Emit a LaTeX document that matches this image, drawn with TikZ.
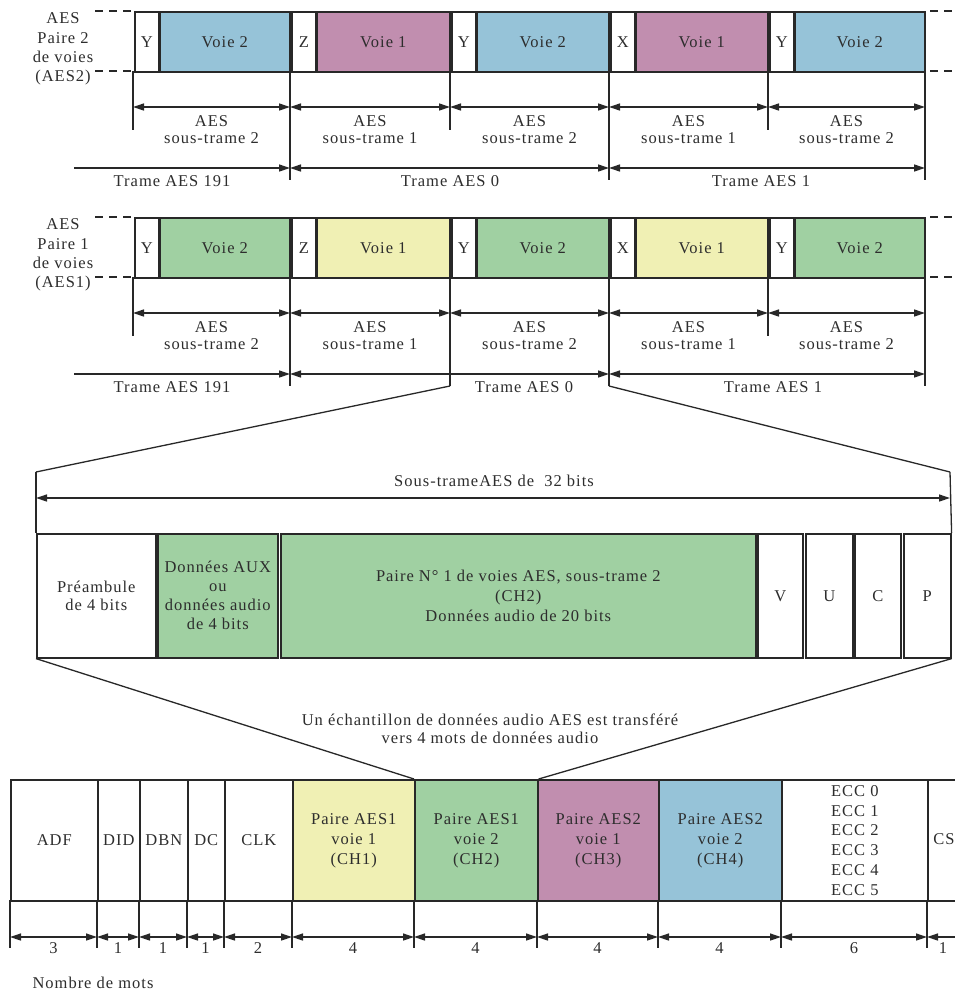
\documentclass[tikz,border=0pt]{standalone}
\usepackage{fontspec}
\setmainfont{Liberation Serif}[LetterSpace=6]
\usetikzlibrary{arrows.meta}
\definecolor{cblue}{RGB}{150,195,216}
\definecolor{cpink}{RGB}{193,142,175}
\definecolor{cgreen}{RGB}{160,208,162}
\definecolor{cyellow}{RGB}{240,240,180}
\definecolor{ink}{RGB}{40,40,40}
\definecolor{txt}{RGB}{45,45,45}
\tikzset{
  tf/.style={font=\fontsize{16.5}{17.5}\selectfont, text=txt},
  cell/.style={draw=ink, line width=1.6pt, inner sep=0pt, anchor=north west, tf, align=center},
  ln/.style={draw=ink, line width=1.3pt},
  dimarr/.style={ln, {Triangle[length=11pt,width=7pt]}-{Triangle[length=11pt,width=7pt]}},
  endarr/.style={ln, -{Triangle[length=11pt,width=7pt]}},
  dsh/.style={draw=ink, line width=1.3pt, dash pattern=on 8pt off 6pt},
  lbl/.style={tf, inner sep=0pt, align=center},
}
\newcommand{\aesrow}[8]{%
\begin{scope}[shift={(0,#1)}]
 \node[lbl, font=\fontsize{16.5}{19.3}\selectfont] (#2lab) at (63,49) {#5};
 \foreach \xa/\xb/\pr/\vo/\col [count=\i] in {133/290/Y/Voie 2/#3, 290/450/Z/Voie 1/#4, 450/609/Y/Voie 2/#3, 609/768/X/Voie 1/#4, 768/925/Y/Voie 2/#3}{
   \pgfmathsetmacro\bw{\xb-\xa-27}
   \node[cell, fill=white, minimum width=24pt, minimum height=60pt] (#2p\i) at (\xa+1,11) {\pr};
   \node[cell, fill=\col, minimum width=\bw pt, minimum height=60pt] (#2d\i) at (\xa+26,11) {\vo};
 }
 \foreach \x/\e [count=\i from 0] in {133/130, 290/180, 450/#6, 609/180, 768/130, 925/180}{
   \coordinate (#2t\i) at (\x,71);
   \coordinate (#2u\i) at (\x,\e);
   \draw[ln] (#2t\i) -- (#2u\i);
   \coordinate (#2s\i) at (\x,107);
 }
 \foreach \i/\j/\k in {0/1/2, 1/2/1, 2/3/2, 3/4/1, 4/5/2}{
   \draw[dimarr] (#2s\i) -- node[midway, lbl, yshift=-22.5pt] (#2st\i) {AES\\sous-trame \k} (#2s\j);
 }
 \coordinate (#2f0) at (74,168);
 \coordinate (#2f1) at (290,168);
 \coordinate (#2f3) at (609,168);
 \coordinate (#2f5) at (925,168);
 \draw[endarr] (#2f0) -- (#2f1);
 \draw[dimarr] (#2f1) -- (#2f3);
 \draw[dimarr] (#2f3) -- (#2f5);
 \node[lbl] (#2tr0) at (172,181) {Trame AES 191};
 \node[lbl] (#2tr1) at (#7,181) {Trame AES 0};
 \node[lbl] (#2tr2) at (#8,181) {Trame AES 1};
 \coordinate (#2da) at (95,11);  \coordinate (#2db) at (133,11);
 \coordinate (#2dc) at (95,71);  \coordinate (#2dd) at (133,71);
 \coordinate (#2de) at (930,11); \coordinate (#2df) at (958,11);
 \coordinate (#2dg) at (930,71); \coordinate (#2dh) at (958,71);
 \draw[dsh] (#2da) -- (#2db);
 \draw[dsh] (#2dc) -- (#2dd);
 \draw[dsh] (#2de) -- (#2df);
 \draw[dsh] (#2dg) -- (#2dh);
\end{scope}}
\begin{document}
\begin{tikzpicture}[x=1pt,y=-1pt]
\useasboundingbox (0,0) rectangle (955,991);
\clip (0,0) rectangle (955,991);
\fill[white] (0,0) rectangle (955,991);

\aesrow{0}{A}{cblue}{cpink}{AES\\Paire 2\\de voies\\(AES2)}{130}{450}{761}
\aesrow{206}{B}{cgreen}{cyellow}{AES\\Paire 1\\de voies\\(AES1)}{180}{524}{773}

% middle sub-frame
\node[cell, fill=white, minimum width=119pt, minimum height=124pt] (mpre) at (36,533) {Préambule\\de 4 bits};
\node[cell, fill=cgreen, minimum width=120pt, minimum height=124pt, font=\fontsize{16.5}{19}\selectfont] (maux) at (157,533) {Données AUX\\ou\\données audio\\de 4 bits};
\node[cell, fill=cgreen, minimum width=475pt, minimum height=124pt, font=\fontsize{16.5}{20}\selectfont] (mpair) at (280,533) {Paire N° 1 de voies AES, sous-trame 2\\(CH2)\\Données audio de 20 bits};
\node[cell, fill=white, minimum width=45pt, minimum height=124pt] (mV) at (757,533) {V};
\node[cell, fill=white, minimum width=47pt, minimum height=124pt] (mU) at (805,533) {U};
\node[cell, fill=white, minimum width=46pt, minimum height=124pt] (mC) at (854,533) {C};
\node[cell, fill=white, minimum width=47pt, minimum height=124pt] (mP) at (903,533) {P};

\coordinate (zl) at (36,472);
\coordinate (zr) at (950,472);
\draw[ln] (Bu2) -- (zl);
\draw[ln] (Bu3) -- (zr);
\draw[ln] (zl) -- (mpre.north west);
\draw[ln] (zr) -- (mP.north east);
\coordinate (ml) at (36,498);
\coordinate (mr) at (950,498);
\draw[dimarr] (ml) -- (mr);
\node[lbl] (mtitle) at (494,481) {Sous-trameAES de~ 32 bits};

\node[lbl] (note) at (490,729) {Un échantillon de données audio AES est transféré\\vers 4 mots de données audio};

% bottom row
\foreach \xa/\xb/\nm/\col/\tx in {10/97/adf/white/ADF, 97/139/did/white/DID, 139/187/dbn/white/DBN, 187/224/dc/white/DC, 224/292/clk/white/CLK, 292/414/ch1/cyellow/{Paire AES1\\voie 1\\(CH1)}, 414/537/ch2/cgreen/{Paire AES1\\voie 2\\(CH2)}, 537/658/ch3/cpink/{Paire AES2\\voie 1\\(CH3)}, 658/781/ch4/cblue/{Paire AES2\\voie 2\\(CH4)}}{
  \pgfmathsetmacro\bw{\xb-\xa}
  \node[cell, fill=\col, minimum width=\bw pt, minimum height=121pt, font=\fontsize{16.5}{20}\selectfont] (\nm) at (\xa,779) {\tx};
}
\node[cell, fill=white, minimum width=146pt, minimum height=121pt, font=\fontsize{16.5}{19.8}\selectfont] (ecc) at (781,779) {ECC 0\\ECC 1\\ECC 2\\ECC 3\\ECC 4\\ECC 5};
\node[cell, fill=white, minimum width=60pt, minimum height=121pt] (cs) at (927,779) {};
\node[lbl] (cstx) at (944,839) {CS};

\draw[ln] (mpre.south west) -- (ch2.north west);
\draw[ln] (mP.south east) -- (ch2.north east);

\foreach \x [count=\i from 0] in {10,97,139,187,224,292,414,537,658,781,927}{
  \coordinate (bt\i) at (\x,900);
  \coordinate (bb\i) at (\x,948);
  \draw[ln] (bt\i) -- (bb\i);
  \coordinate (ba\i) at (\x,937);
}
\coordinate (ba11) at (975,937);
\foreach \i/\j/\n in {0/1/3, 1/2/1, 2/3/1, 3/4/1, 4/5/2, 5/6/4, 6/7/4, 7/8/4, 8/9/4, 9/10/6}{
  \draw[dimarr] (ba\i) -- node[midway, lbl, yshift=-11pt] (bn\i) {\n} (ba\j);
}
\draw[dimarr] (ba10) -- (ba11);
\node[lbl] (bn10) at (943,948) {1};

\node[lbl] (nmots) at (93,983) {Nombre de mots};
\end{tikzpicture}
\end{document}
